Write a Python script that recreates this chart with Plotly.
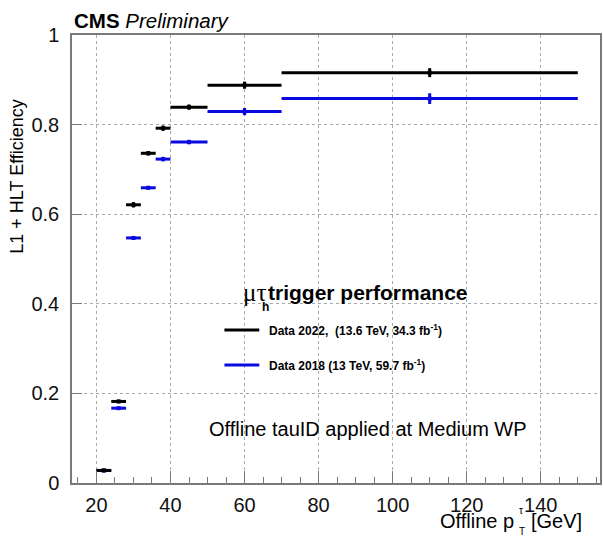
import plotly.graph_objects as go

# Offline tau pT bins [GeV]
bin_lo = [20, 24, 28, 32, 36, 40, 50, 70]
bin_hi = [24, 28, 32, 36, 40, 50, 70, 150]

# L1 + HLT efficiency of the mu-tau_h trigger
eff_2022 = [0.028, 0.182, 0.621, 0.736, 0.792, 0.839, 0.888, 0.916]
err_2022 = [0.003, 0.004, 0.006, 0.005, 0.006, 0.006, 0.008, 0.010]
eff_2018 = [0.028, 0.167, 0.547, 0.659, 0.723, 0.761, 0.829, 0.858]
err_2018 = [0.003, 0.003, 0.004, 0.004, 0.005, 0.005, 0.008, 0.012]

x_ticks = [20, 40, 60, 80, 100, 120, 140]
y_ticks = [0, 0.2, 0.4, 0.6, 0.8, 1]

label_2022 = "Data 2022,  (13.6 TeV, 34.3 fb<sup>-1</sup>)"
label_2018 = "Data 2018 (13 TeV, 59.7 fb<sup>-1</sup>)"

BLACK = "#000000"
BLUE = "#0a0ae0"
SANS = "Liberation Sans, Arial, sans-serif"
SERIF = "Liberation Serif, Times New Roman, serif"

W, H = 603, 538
L, R, T, B = 72, 1, 35, 55
PW, PH = W - L - R, H - T - B


def fx(px):
    return (px - L) / PW


def fy(py):
    return (H - B - py) / PH


centers = [(a + b) / 2 for a, b in zip(bin_lo, bin_hi)]
half_w = [(b - a) / 2 for a, b in zip(bin_lo, bin_hi)]

fig = go.Figure()
for eff, err, col in [(eff_2018, err_2018, BLUE), (eff_2022, err_2022, BLACK)]:
    fig.add_trace(go.Scatter(
        x=centers, y=eff, mode="markers",
        marker=dict(symbol="square", size=4, color=col),
        error_x=dict(type="data", array=half_w, symmetric=True,
                     thickness=3, width=0, color=col),
        error_y=dict(type="data", array=err, symmetric=True,
                     thickness=3, width=0, color=col),
        showlegend=False, hoverinfo="skip",
    ))

axis_common = dict(
    showline=True, linecolor="#7a7a7a", linewidth=1.5, mirror=True,
    showgrid=True, gridcolor="#a8a8a8", gridwidth=1, griddash="dot",
    zeroline=False, ticks="inside", tickcolor="#7a7a7a", tickwidth=1.2,
    tickfont=dict(family=SANS, size=20, color="#111111"),
)

fig.update_xaxes(
    range=[13.4, 156], tickvals=x_ticks, ticklen=12,
    minor=dict(dtick=5, tick0=0, ticklen=6, ticks="inside",
               tickcolor="#7a7a7a", showgrid=False),
    ticklabelstandoff=3, **axis_common,
)
fig.update_yaxes(
    range=[0, 1], tickvals=y_ticks, ticklen=10,
    ticklabelstandoff=7, **axis_common,
)

annotations = [
    # header
    dict(x=fx(72), y=fy(20), text="<b>CMS</b> <i>Preliminary</i>",
         xanchor="left", yanchor="middle",
         font=dict(family=SANS, size=20.5, color=BLACK)),
    # axis titles
    dict(x=fx(17), y=fy(97), text="L1 + HLT Efficiency", textangle=-90,
         xanchor="center", yanchor="top",
         font=dict(family=SANS, size=18, color=BLACK)),
    dict(x=fx(518), y=fy(521), text="Offline p",
         xanchor="right", yanchor="middle",
         font=dict(family=SANS, size=20, color=BLACK)),
    dict(x=fx(523), y=fy(510), text="\u03c4",
         xanchor="center", yanchor="middle",
         font=dict(family=SANS, size=10, color=BLACK)),
    dict(x=fx(524), y=fy(531), text="T",
         xanchor="center", yanchor="middle",
         font=dict(family=SANS, size=10, color=BLACK)),
    dict(x=fx(531), y=fy(521), text="[GeV]",
         xanchor="left", yanchor="middle",
         font=dict(family=SANS, size=20, color=BLACK)),
    # legend header
    dict(x=fx(242), y=fy(292), text="\u03bc\u03c4",
         xanchor="left", yanchor="middle",
         font=dict(family=SERIF, size=25, color=BLACK)),
    dict(x=fx(261), y=fy(307), text="<b>h</b>",
         xanchor="left", yanchor="middle",
         font=dict(family=SANS, size=12, color=BLACK)),
    dict(x=fx(267), y=fy(292), text="<b>trigger performance</b>",
         xanchor="left", yanchor="middle",
         font=dict(family=SANS, size=21, color=BLACK)),
    # legend entries
    dict(x=fx(268), y=fy(330), text="<b>" + label_2022 + "</b>",
         xanchor="left", yanchor="middle",
         font=dict(family=SANS, size=12, color=BLACK)),
    dict(x=fx(268), y=fy(365), text="<b>" + label_2018 + "</b>",
         xanchor="left", yanchor="middle",
         font=dict(family=SANS, size=12, color=BLACK)),
    # selection note
    dict(x=fx(208), y=fy(429), text="Offline tauID applied at Medium WP",
         xanchor="left", yanchor="middle",
         font=dict(family=SANS, size=20, color=BLACK)),
]
for a in annotations:
    a.update(xref="paper", yref="paper", showarrow=False)

shapes = [
    dict(type="line", xref="paper", yref="paper",
         x0=fx(225), x1=fx(260), y0=fy(330), y1=fy(330),
         line=dict(color=BLACK, width=3)),
    dict(type="line", xref="paper", yref="paper",
         x0=fx(225), x1=fx(260), y0=fy(365), y1=fy(365),
         line=dict(color=BLUE, width=3)),
]

fig.update_layout(
    width=W, height=H,
    margin=dict(l=L, r=R, t=T, b=B),
    paper_bgcolor="white", plot_bgcolor="white",
    annotations=annotations, shapes=shapes,
    showlegend=False,
)

fig.write_html("out.html")
